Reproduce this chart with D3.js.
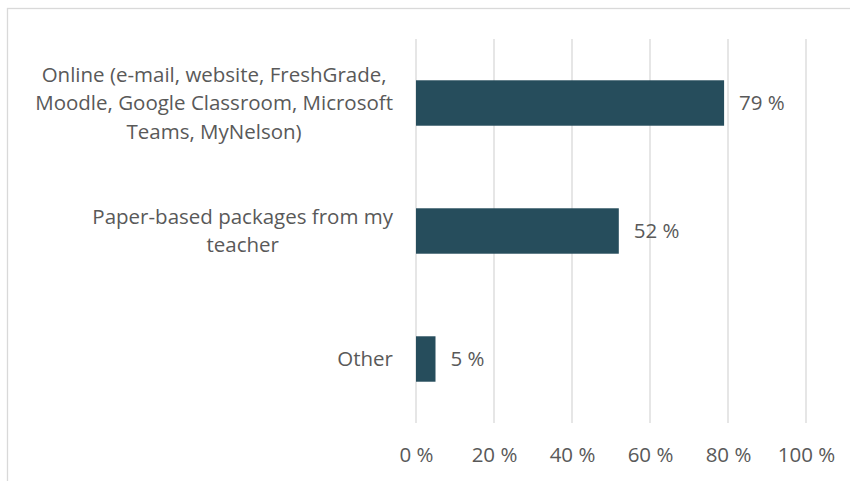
<!DOCTYPE html>
<html>
<head>
<meta charset="utf-8">
<script src="https://cdn.jsdelivr.net/npm/d3@7"></script>
<style>
  body { margin: 0; background: #fff; }
  svg { display: block; }
  text { font-family: "Open Sans", sans-serif; fill: #595959; }
</style>
</head>
<body>
<div id="canvas"></div>
<script>
// data
const categories = [
    "Online (e-mail, website, FreshGrade, Moodle, Google Classroom, Microsoft Teams, MyNelson)",
    "Paper-based packages from my teacher",
    "Other"
];
const values = [79, 52, 5];
const ticks = [0, 20, 40, 60, 80, 100];

const width = 850;
const height = 481;
const margin = { top: 39, left: 416, bottom: 58, right: 44 };
const iwidth = width - margin.left - margin.right;
const iheight = height - margin.top - margin.bottom;
const fontSize = 20.5;

const svg = d3.select("#canvas").append("svg")
    .attr("width", width)
    .attr("height", height);

// chart frame
svg.append("rect")
    .attr("x", 7.5)
    .attr("y", 8.5)
    .attr("width", 900)
    .attr("height", 600)
    .style("fill", "none")
    .style("stroke", "#d9d9d9")
    .style("stroke-width", 1.3);

const g = svg.append("g").attr("transform", `translate(${margin.left},${margin.top})`);

const x = d3.scaleLinear()
    .domain([0, 100])
    .range([0, iwidth]);

const y = d3.scaleBand()
    .domain(categories)
    .range([0, iheight])
    .paddingInner(0.645)
    .paddingOuter(0.3225);

// gridlines
g.selectAll(".grid").data(ticks).enter().append("line")
    .attr("class", "grid")
    .attr("x1", d => x(d))
    .attr("x2", d => x(d))
    .attr("y1", 0)
    .attr("y2", iheight)
    .style("stroke", "#d9d9d9")
    .style("stroke-width", 1.3);

// bars
g.selectAll(".bar").data(values).enter().append("rect")
    .attr("class", "bar")
    .attr("x", x(0))
    .attr("y", (d, i) => y(categories[i]))
    .attr("width", d => x(d) - x(0))
    .attr("height", y.bandwidth())
    .style("fill", "#264d5c");

// value labels
g.selectAll(".val").data(values).enter().append("text")
    .attr("class", "val")
    .attr("x", d => x(d) + 15)
    .attr("y", (d, i) => y(categories[i]) + y.bandwidth() / 2)
    .attr("dy", "0.35em")
    .style("font-size", fontSize + "px")
    .text(d => d + " %");

// x axis
const xAxis = g.append("g")
    .attr("transform", `translate(0,${iheight})`)
    .call(d3.axisBottom(x).tickValues(ticks).tickFormat(d => d + " %").tickSize(0).tickPadding(24));
xAxis.select(".domain").remove();
xAxis.selectAll("text")
    .style("font-size", fontSize + "px")
    .style("font-family", "'Open Sans', sans-serif")
    .style("fill", "#595959");

// category labels, wrapped, lines centred, block right-aligned near the axis
const labelRight = -23;
const maxW = 376;
const lineH = 28.5;
categories.forEach(function (cat, i) {
    const t = g.append("text")
        .style("font-size", fontSize + "px")
        .attr("text-anchor", "middle");
    const words = cat.split(" ");
    let lines = [];
    let cur = [];
    const probe = g.append("text").style("font-size", fontSize + "px");
    words.forEach(function (w) {
        const test = cur.concat([w]).join(" ");
        probe.text(test);
        if (probe.node().getComputedTextLength() > maxW && cur.length) {
            lines.push(cur.join(" "));
            cur = [w];
        } else {
            cur.push(w);
        }
    });
    lines.push(cur.join(" "));
    let blockW = 0;
    lines.forEach(function (l) {
        probe.text(l);
        blockW = Math.max(blockW, probe.node().getComputedTextLength());
    });
    probe.remove();
    const cx = labelRight - blockW / 2;
    const cy = y(cat) + y.bandwidth() / 2;
    lines.forEach(function (l, k) {
        t.append("tspan")
            .attr("x", cx)
            .attr("y", cy + (k - (lines.length - 1) / 2) * lineH)
            .attr("dy", "0.35em")
            .text(l);
    });
});
</script>
</body>
</html>
